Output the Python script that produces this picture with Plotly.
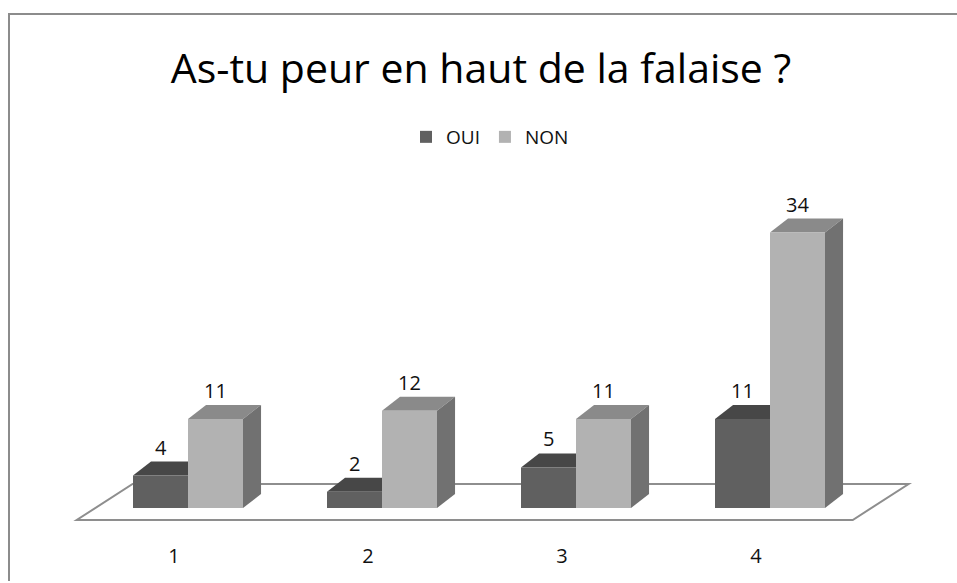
import plotly.graph_objects as go

# ---- data ----
categories = [1, 2, 3, 4]
tick_labels = ["1", "2", "3", "4"]
oui_values = [4, 2, 5, 11]
non_values = [11, 12, 11, 34]
series_names = ["OUI", "NON"]
title_text = "As-tu peur en haut de la falaise ?"

# ---- styling / geometry constants (data units) ----
BAR_W = 0.2835          # width of each bar's front face
DEPTH_X = 0.093         # 3D depth offset along x
DEPTH_Y = 1.73          # 3D depth offset along y
FLOOR_FRONT_Y = -1.48
FLOOR_SHIFT = -0.0735
FLOOR_DX = 0.288
FLOOR_DY = 4.44

COL = {
    "OUI": {"front": "#606060", "top": "#474747", "side": "#4f4f4f"},
    "NON": {"front": "#b2b2b2", "top": "#8a8a8a", "side": "#717171"},
}
FLOOR_COL = "#8e8e8e"
FONT = "Open Sans"

# page body margin is removed via post_script, so no offset
PAGE = 0
L, T, PW, PH = 40 - PAGE, 190 - PAGE, 900, 340
W, H = 957, 583
R, B = W - L - PW, H - T - PH


def px_to_paper_x(px):
    return (px - PAGE - L) / PW


def px_to_paper_y(py):
    return (T + PH - (py - PAGE)) / PH


fig = go.Figure()

shapes = []
# outer border of chart area (left and top edges visible)
shapes.append(dict(type="line", xref="paper", yref="paper",
                   x0=px_to_paper_x(9), x1=px_to_paper_x(9),
                   y0=px_to_paper_y(581), y1=px_to_paper_y(14),
                   line=dict(color="#8c8c8c", width=2), layer="below"))
shapes.append(dict(type="line", xref="paper", yref="paper",
                   x0=px_to_paper_x(8), x1=px_to_paper_x(1000),
                   y0=px_to_paper_y(14), y1=px_to_paper_y(14),
                   line=dict(color="#8c8c8c", width=2), layer="below"))

# floor parallelogram
fx0 = categories[0] - 0.5 + FLOOR_SHIFT
fx1 = categories[-1] + 0.5 + FLOOR_SHIFT
floor_path = (f"M{fx0},{FLOOR_FRONT_Y} L{fx1},{FLOOR_FRONT_Y} "
              f"L{fx1 + FLOOR_DX},{FLOOR_FRONT_Y + FLOOR_DY} "
              f"L{fx0 + FLOOR_DX},{FLOOR_FRONT_Y + FLOOR_DY} Z")
shapes.append(dict(type="path", xref="x", yref="y", path=floor_path,
                   line=dict(color=FLOOR_COL, width=2),
                   fillcolor="rgba(255,255,255,0)", layer="below"))

annotations = []
for name, vals, offset in [("OUI", oui_values, -BAR_W), ("NON", non_values, 0.0)]:
    for c, v in zip(categories, vals):
        x0 = c + offset
        x1 = x0 + BAR_W
        # top face
        shapes.append(dict(type="path", xref="x", yref="y", layer="below",
                           path=(f"M{x0},{v} L{x1},{v} L{x1 + DEPTH_X},{v + DEPTH_Y} "
                                 f"L{x0 + DEPTH_X},{v + DEPTH_Y} Z"),
                           fillcolor=COL[name]["top"], line=dict(width=0)))
        # side face
        shapes.append(dict(type="path", xref="x", yref="y", layer="below",
                           path=(f"M{x1},0 L{x1 + DEPTH_X},{DEPTH_Y} "
                                 f"L{x1 + DEPTH_X},{v + DEPTH_Y} L{x1},{v} Z"),
                           fillcolor=COL[name]["side"], line=dict(width=0)))
        annotations.append(dict(x=(x0 + x1) / 2, y=v + DEPTH_Y, xref="x", yref="y",
                                text=str(v), showarrow=False, yanchor="bottom",
                                yshift=-1,
                                font=dict(family=FONT, size=20, color="#111111")))

for name, vals, offset in [("OUI", oui_values, -BAR_W), ("NON", non_values, 0.0)]:
    fig.add_trace(go.Bar(
        x=categories, y=vals, name=name,
        offset=offset, width=BAR_W,
        marker=dict(color=COL[name]["front"], line=dict(width=0)),
        hoverinfo="x+y+name",
    ))

fig.update_layout(
    width=W, height=H,
    margin=dict(l=L, r=R, t=T, b=B),
    paper_bgcolor="white", plot_bgcolor="rgba(0,0,0,0)",
    barmode="overlay",
    showlegend=True,
    title=dict(text=title_text, x=(481 - PAGE) / W, xanchor="center",
               y=1 - (69 - PAGE) / H, yanchor="middle", yref="container",
               font=dict(family=FONT, size=41, color="#000000")),
    legend=dict(orientation="h", x=px_to_paper_x(490), xanchor="center",
                y=1 - (137 - PAGE) / H, yanchor="middle", yref="container",
                font=dict(family=FONT, size=19, color="#111111"),
                itemwidth=30, bgcolor="rgba(0,0,0,0)"),
    xaxis=dict(range=[1 + (40 - 188) / 194, 1 + (940 - 188) / 194],
               tickvals=categories, ticktext=tick_labels,
               showgrid=False, zeroline=False, showline=False, ticks="",
               ticklabelshift=-14, ticklabelstandoff=12,
               tickfont=dict(family=FONT, size=20, color="#111111"),
               fixedrange=True),
    yaxis=dict(range=[(508 - 530) / 8.1, (508 - 190) / 8.1], visible=False,
               fixedrange=True),
    shapes=shapes,
    annotations=annotations,
)

fig.write_html("out.html",
               config={"displayModeBar": False},
               post_script="document.body.style.margin='0';document.body.style.overflow='hidden';")
